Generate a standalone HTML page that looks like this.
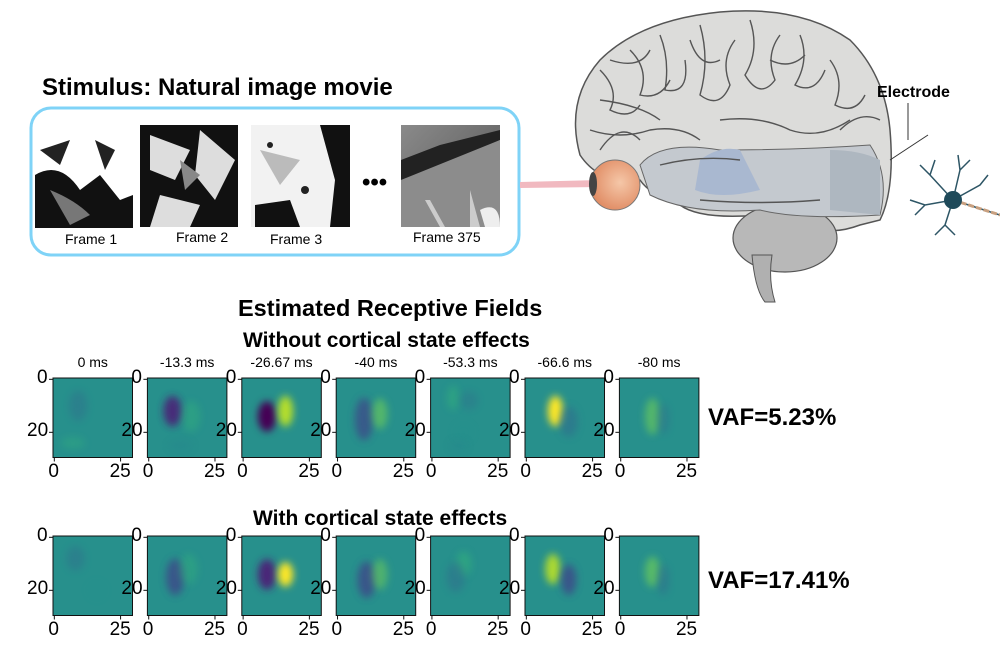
<!DOCTYPE html>
<html><head><meta charset="utf-8"><style>
html,body{margin:0;padding:0;background:#fff;width:1000px;height:662px;overflow:hidden}
body{font-family:"Liberation Sans",sans-serif;position:relative}
.t{position:absolute;white-space:nowrap;color:#000}
.b{font-weight:bold}
</style></head><body>
<svg id="main" width="1000" height="662" style="position:absolute;left:0;top:0">
<defs>
<filter id="blur" x="-50%" y="-50%" width="200%" height="200%"><feGaussianBlur stdDeviation="3.8"/></filter>
<radialGradient id="eyeG" cx="60%" cy="45%" r="60%"><stop offset="0" stop-color="#f5c7a8"/><stop offset="1" stop-color="#e08b63"/></radialGradient>
<linearGradient id="f375" x1="0" y1="0" x2="1" y2="1"><stop offset="0" stop-color="#8a8a8a"/><stop offset="0.5" stop-color="#6e6e6e"/><stop offset="1" stop-color="#aaa"/></linearGradient>
</defs>
<rect x="31" y="108" width="488" height="147" rx="20" fill="none" stroke="#7fd3f7" stroke-width="3"/>
<g>
<rect x="35" y="128" width="98" height="100" fill="#fff"/>
<path d="M35 175 Q60 160 80 190 L100 175 L120 200 L133 195 L133 228 L35 228Z" fill="#111"/>
<path d="M40 150 L70 140 L60 165Z M95 140 L115 150 L105 170Z" fill="#222"/>
<path d="M50 190 Q75 200 90 215 L70 225Z" fill="#777"/>
</g>
<g>
<rect x="140" y="125" width="98" height="102" fill="#111"/>
<path d="M150 135 L190 150 L175 180 L150 170Z M200 130 L235 160 L215 200 L195 175Z M160 195 L200 205 L190 227 L150 227Z" fill="#ddd"/>
<path d="M180 160 L200 175 L185 190Z" fill="#888"/>
</g>
<g>
<rect x="251" y="125" width="99" height="102" fill="#f2f2f2"/>
<path d="M320 125 L350 125 L350 227 L330 227 L335 180Z" fill="#111"/>
<path d="M255 205 L290 200 L300 227 L255 227Z" fill="#111"/>
<circle cx="270" cy="145" r="3" fill="#222"/><circle cx="305" cy="190" r="4" fill="#222"/>
<path d="M260 150 L300 160 L280 185Z" fill="#bbb"/>
</g>
<text x="362" y="190" font-family="Liberation Sans" font-weight="bold" font-size="24">•••</text>
<g>
<rect x="401" y="125" width="99" height="102" fill="url(#f375)"/>
<path d="M401 160 L440 145 L480 135 L500 130 L500 140 L445 165 L401 180Z" fill="#222"/>
<path d="M401 180 L500 140 L500 227 L401 227Z" fill="#8c8c8c"/>
<path d="M430 200 L445 227 L440 227 L425 200Z M470 190 L480 227 L470 227Z" fill="#ccc"/>
<path d="M480 210 Q500 200 500 227 L485 227Z" fill="#eee"/>
</g>
<path d="M520 182 L600 180 L600 187 L520 188Z" fill="#f1b9c0"/>
<g>
<path d="M580 155 Q565 100 600 60 Q640 20 720 12 Q800 5 850 40 Q885 75 890 130 Q895 190 880 220 L860 225 Q820 240 800 215 L760 215 Q700 220 680 205 Q650 195 640 180 Q600 185 580 155Z" fill="#dcdcda" stroke="#555" stroke-width="1.5"/>
<ellipse cx="785" cy="238" rx="52" ry="34" fill="#b8b8b8" stroke="#555" stroke-width="1.2"/>
<path d="M752 255 Q755 290 765 302 L775 302 Q768 280 772 255Z" fill="#b0b0b0" stroke="#555"/>
<path d="M640 165 Q660 140 720 150 Q800 150 870 145 Q890 175 880 215 Q800 220 760 210 Q690 215 650 195Z" fill="#c4c9cf" stroke="#666" stroke-width="1"/>
<path d="M700 160 Q720 145 740 150 L760 190 Q720 200 695 190Z" fill="#a9b8d0"/>
<path d="M830 150 Q860 150 880 160 L880 215 L830 210Z" fill="#aeb7c0"/>
<g fill="none" stroke="#555" stroke-width="1.4">
<path d="M600 70 Q620 90 610 110 Q630 120 640 105 M630 50 Q650 70 640 95 Q660 100 670 80 M660 35 Q670 60 665 90 Q690 95 685 60 M700 25 Q710 60 700 95 Q720 110 730 85 Q720 60 735 40 M750 20 Q760 50 745 75 Q760 100 775 80 Q765 55 780 35 M800 35 Q810 60 795 85 Q815 95 825 70 M830 60 Q845 80 835 105 Q855 115 865 95"/>
<path d="M590 130 Q620 140 650 130 Q680 125 700 140 M720 120 Q760 115 790 130 Q820 140 850 120 M600 100 Q640 105 660 120"/>
<path d="M660 165 Q700 155 740 160 M700 200 Q760 205 820 200"/>
<path d="M610 60 Q640 70 650 50 M690 40 Q700 70 720 60 M770 60 Q790 70 805 55 M840 130 Q860 110 880 120 M600 150 Q620 120 640 140"/>
</g>
</g>
<circle cx="615" cy="185" r="25" fill="url(#eyeG)" stroke="#777"/>
<ellipse cx="593" cy="184" rx="4" ry="12" fill="#444"/>
<path d="M908 103 L908 140 M928 135 L890 160" stroke="#333" stroke-width="1" fill="none"/>
<g stroke="#2d5565" stroke-width="1.5" fill="none">
<path d="M953 200 L930 175 L920 165 M930 175 L935 160 M953 200 L960 170 L958 155 M960 170 L970 160 M953 200 L980 185 L988 175 M953 200 L925 205 L910 200 M925 205 L915 215 M953 200 L945 225 L935 235 M945 225 L955 235 M953 200 L1000 215"/>
<path d="M953 200 L1000 215" stroke="#c8a080" stroke-width="3" stroke-dasharray="6 2"/>
<circle cx="953" cy="200" r="9" fill="#1f4a5a" stroke="none"/>
</g>
<g id="heat"></g>
</svg>
<div class="t b" style="left:42px;top:74px;font-size:24px">Stimulus: Natural image movie</div>
<div class="t" style="left:65px;top:231px;font-size:14px">Frame 1</div>
<div class="t" style="left:176px;top:229px;font-size:14px">Frame 2</div>
<div class="t" style="left:270px;top:231px;font-size:14px">Frame 3</div>
<div class="t" style="left:413px;top:229px;font-size:14px">Frame 375</div>
<div class="t b" style="left:877px;top:84px;font-size:16px">Electrode</div>
<div class="t b" style="left:238px;top:295px;font-size:23.5px">Estimated Receptive Fields</div>
<div class="t b" style="left:243px;top:329px;font-size:21px">Without cortical state effects</div>
<div class="t b" style="left:253px;top:507px;font-size:21px">With cortical state effects</div>
<div class="t b" style="left:708px;top:404px;font-size:24px">VAF=5.23%</div>
<div class="t b" style="left:708px;top:567px;font-size:24px">VAF=17.41%</div>
<div id="labels"></div>
<script>
const delays = ["0 ms","-13.3 ms","-26.67 ms","-40 ms","-53.3 ms","-66.6 ms","-80 ms"];
const xTicks = [0, 25];
const yTicks = [0, 20];
// blobs: [col, row, sigmaCol, sigmaRow, amplitude(-1..1)]
const row1Blobs = [
 [[9,10,3,5,-0.3],[7,24,4,2,0.25]],
 [[9,12,3,5,-0.75],[16,14,3,5,0.3],[12,25,4,2,-0.2]],
 [[9,14,3,5,-1.0],[16,12,2.5,5,0.8]],
 [[10,15,3,7,-0.6],[16,13,2.5,5,0.5]],
 [[8,7,2,4,0.35],[14,8,3,3,-0.25],[12,20,3,3,0.2],[10,25,3,2,-0.2]],
 [[11,12,2.5,5,0.9],[16,16,3,5,-0.4]],
 [[12,14,2.5,6,0.5],[16,15,2,5,-0.3]]
];
const row2Blobs = [
 [[8,8,3,4,-0.3],[16,20,3,3,0.1]],
 [[10,15,3,6,-0.65],[15,12,3,5,0.3]],
 [[9,14,3,5,-0.85],[16,14,2.5,4,1.0]],
 [[11,16,3,6,-0.65],[16,14,2.5,5,0.45]],
 [[12,10,2.5,4,0.4],[9,15,3,5,-0.35]],
 [[10,12,2.5,5,0.75],[16,16,2.5,5,-0.65]],
 [[12,13,2.5,5,0.55],[16,16,2,5,-0.35]]
];
const rows = [row1Blobs, row2Blobs];
const panelLeft0 = 53, panelStep = 94.4, panelSize = 79.5, nCells = 30;
const rowTops = [378, 536];
const unit = panelSize / nCells;
const viridis = ["#440154","#482878","#3e4989","#31688e","#26828e","#21918c","#35b779","#6ece58","#b5de2b","#fde725"];
function colorFor(v){ const i = Math.round((v+1)/2*(viridis.length-1)); return viridis[Math.max(0,Math.min(viridis.length-1,i))]; }
const NS = "http://www.w3.org/2000/svg";
const heat = document.getElementById('heat');
const labels = document.getElementById('labels');
function xs(p,u){ return panelLeft0 + p*panelStep + u*unit; }
function ys(r,u){ return rowTops[r] + u*unit; }
function addLabel(txt,x,y,size,name){
  const d=document.createElement('div'); d.className='t'; d.textContent=txt;
  d.style.left=x+'px'; d.style.top=y+'px'; d.style.fontSize=size+'px';
  
  
  labels.appendChild(d); return d;
}
rows.forEach((blobs,r)=>{
  blobs.forEach((bl,p)=>{
    const g=document.createElementNS(NS,'g');
    
    
    const cid='c'+r+'_'+p;
    const cp=document.createElementNS(NS,'clipPath'); cp.setAttribute('id',cid);
    const cr=document.createElementNS(NS,'rect');
    cr.setAttribute('x',xs(p,0)); cr.setAttribute('y',ys(r,0)); cr.setAttribute('width',panelSize); cr.setAttribute('height',panelSize);
    cp.appendChild(cr); g.appendChild(cp);
    const inner=document.createElementNS(NS,'g'); inner.setAttribute('clip-path','url(#'+cid+')');
    const bg=document.createElementNS(NS,'rect');
    bg.setAttribute('x',xs(p,0)); bg.setAttribute('y',ys(r,0)); bg.setAttribute('width',panelSize); bg.setAttribute('height',panelSize); bg.setAttribute('fill','#27908c');
    inner.appendChild(bg);
    bl.forEach(b=>{
      const e=document.createElementNS(NS,'ellipse');
      
      
      e.setAttribute('cx',xs(p,b[0]+0.5)); e.setAttribute('cy',ys(r,b[1]+0.5));
      e.setAttribute('rx',b[2]*unit*1.15); e.setAttribute('ry',b[3]*unit*1.15);
      e.setAttribute('fill',colorFor(b[4])); e.setAttribute('opacity',Math.min(1,Math.abs(b[4])*1.25));
      e.setAttribute('filter','url(#blur)');
      inner.appendChild(e);
    });
    g.appendChild(inner);
    const fr=document.createElementNS(NS,'rect');
    fr.setAttribute('x',xs(p,0)); fr.setAttribute('y',ys(r,0)); fr.setAttribute('width',panelSize); fr.setAttribute('height',panelSize);
    fr.setAttribute('fill','none'); fr.setAttribute('stroke','#111'); fr.setAttribute('stroke-width','1');
    g.appendChild(fr);
    xTicks.forEach(t=>{
      const l=document.createElementNS(NS,'line'); const x=xs(p,t+0.5);
      l.setAttribute('x1',x); l.setAttribute('x2',x); l.setAttribute('y1',ys(r,nCells)); l.setAttribute('y2',ys(r,nCells)+4); l.setAttribute('stroke','#111');
      g.appendChild(l);
      addLabel(String(t), x-(t>9?11:6), ys(r,nCells)+3, 19, 'x-tick-label');
    });
    yTicks.forEach(t=>{
      const l=document.createElementNS(NS,'line'); const y=ys(r,t+0.5);
      l.setAttribute('x1',xs(p,0)-4); l.setAttribute('x2',xs(p,0)); l.setAttribute('y1',y); l.setAttribute('y2',y); l.setAttribute('stroke','#111');
      g.appendChild(l);
      addLabel(String(t), xs(p,0)-(t>9?26:16), y-12, 19, 'y-tick-label');
    });
    heat.appendChild(g);
    if(r===0){ const d=addLabel(delays[p], xs(p,15), 354, 14, 'delay-label'); d.style.transform='translateX(-50%)'; }
  });
});
</script>
</body></html>
